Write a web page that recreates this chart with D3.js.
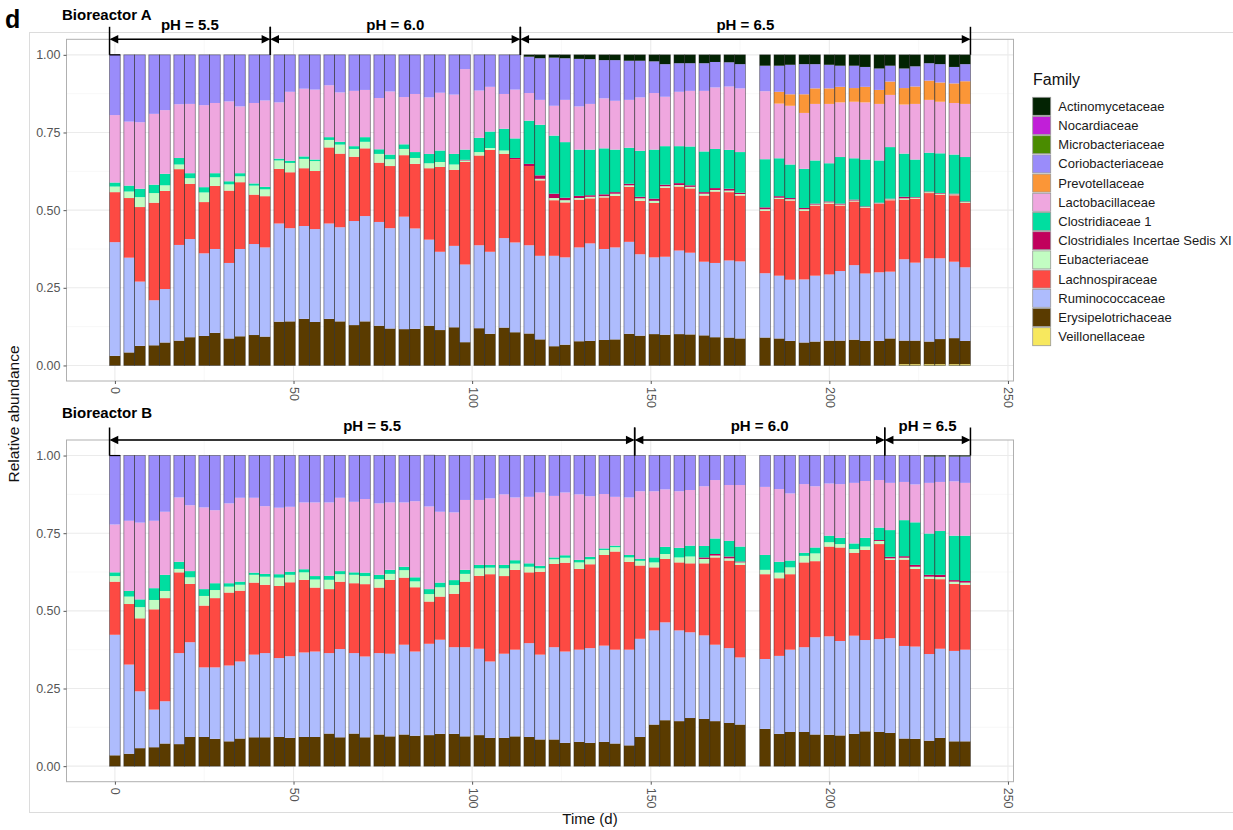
<!DOCTYPE html>
<html>
<head>
<meta charset="utf-8">
<script src="https://cdn.jsdelivr.net/npm/d3@7"></script>
<style>
  body { margin: 0; background: #fff; }
  svg { display: block; font-family: "Liberation Sans", Arial, Helvetica, sans-serif; }
</style>
</head>
<body>
<svg id="chart" width="1233" height="830"></svg>
<script>
// Families, listed top of stack first (legend order)
const families = [
  "Actinomycetaceae", "Nocardiaceae", "Microbacteriaceae", "Coriobacteriaceae",
  "Prevotellaceae", "Lactobacillaceae", "Clostridiaceae 1",
  "Clostridiales Incertae Sedis XI", "Eubacteriaceae", "Lachnospiraceae",
  "Ruminococcaceae", "Erysipelotrichaceae", "Veillonellaceae"
];
const familyColors = [
  "#032303", "#c11fd8", "#4a8c00", "#9a8cfa",
  "#fb9637", "#efa7df", "#00dea0",
  "#c1005c", "#c2fcc2", "#fd4a43",
  "#aebcfd", "#5a3b00", "#f7e85e"
];

// Sampling days (d)
const days = [
  0, 4, 7, 11, 14, 18, 21, 25, 28, 32,
  35, 39, 42, 46, 49, 53, 56, 60, 63, 67,
  70, 74, 77, 81, 84, 88, 91, 95, 98, 102,
  105, 109, 112, 116, 119, 123, 126, 130, 133, 137,
  140, 144, 147, 151, 154, 158, 161, 165, 168, 172,
  175, 182, 186, 189, 193, 196, 200, 203, 207, 210,
  214, 217, 221, 224, 228, 231, 235, 238
];

// ---- Bioreactor A relative abundances ----
const aActinomycetaceae = [
  0,0,0,0,0,0,0,0,0,0, 0,0,0,0,0,0,0,0,0,0, 0,0,0,0,0,0,0,0,0,0,
  0,0,0,.006,.011,.009,.011,.013,.014,.017,
  .017,.019,.019,.021,.030,.027,.027,.027,.023,.024,
  .030,.035,.035,.032,.030,.030,.032,.035,.035,.039,
  .044,.035,.044,.037,.027,.030,.039,.030
];
const aNocardiaceae = [
  0,0,0,0,0,0,0,0,0,0, 0,0,0,0,0,0,0,0,0,0, 0,0,0,0,0,0,0,0,0,0,
  0,0,0,0,0,0,0,0,0,0, 0,0,0,0,0,0,0,0,0,0, 0,0,0,0,0,0,0,0,0,0,
  0,0,0,0,0,0,0,0
];
const aMicrobacteriaceae = [
  0,0,0,0,0,0,0,0,0,0, 0,0,0,0,0,0,0,0,0,0, 0,0,0,0,0,0,0,0,0,0,
  0,0,0,0,0,0,0,0,0,0, 0,0,0,0,0,0,0,0,0,0, 0,0,0,0,0,0,0,0,0,0,
  0,0,0,0,0,0,0,0
];
const aCoriobacteriaceae = [
  .194,.215,.217,.190,.178,.159,.158,.162,.155,.150,
  .166,.155,.147,.153,.119,.109,.112,.098,.121,.116,
  .113,.139,.118,.136,.126,.137,.122,.128,.046,.115,
  .103,.126,.112,.117,.134,.155,.134,.153,.144,.123,
  .131,.126,.118,.102,.105,.092,.089,.089,.082,.078,
  .078,.082,.084,.095,.097,.078,.076,.068,.072,.064,
  .069,.051,.063,.065,.056,.059,.053,.055
];
const aPrevotellaceae = [
  0,0,0,0,0,0,0,0,0,0, 0,0,0,0,0,0,0,0,0,0, 0,0,0,0,0,0,0,0,0,0,
  0,0,0,0,0,0,0,0,0,0, 0,0,0,0,0,0,0,0,0,0,
  0,0,.038,.037,.060,.050,.050,.050,.044,.050,
  .045,.043,.053,.056,.062,.062,.063,.073
];
const aLactobacillaceae = [
  .217,.206,.214,.228,.205,.173,.223,.264,.226,.257,
  .215,.259,.278,.181,.222,.218,.225,.167,.159,.178,
  .152,.165,.203,.152,.187,.182,.186,.191,.259,.152,
  .144,.112,.157,.089,.080,.096,.136,.139,.147,.161,
  .157,.154,.172,.182,.159,.175,.179,.195,.198,.204,
  .205,.219,.176,.189,.180,.182,.191,.176,.182,.184,
  .182,.168,.158,.179,.170,.166,.166,.171
];
const aClostridiaceae1 = [
  .013,.019,.027,.027,.037,.021,.016,.017,.013,.010,
  .010,.007,.008,.006,.007,.008,.005,.009,.009,.009,
  .015,.015,.015,.015,.019,.030,.037,.034,.033,.046,
  .053,.070,.063,.139,.163,.187,.179,.149,.147,.148,
  .137,.116,.148,.158,.124,.119,.125,.131,.126,.125,
  .131,.155,.122,.108,.126,.139,.123,.150,.133,.151,
  .136,.166,.139,.121,.125,.128,.126,.143
];
const aClostridialesXI = [
  0,0,0,0,0,0,0,0,0,0, 0,0,0,0,0,0,0,0,0,0,
  0,0,0,0,0,0,0,0,.002,0,
  0,0,.004,.007,.011,.014,.008,.007,.005,.006,
  .005,.005,.005,.007,.005,.006,.005,.005,.006,.006,
  .004,.006,.005,.004,.004,.003,.003,.003,.003,.002,
  .002,.002,.005,.002,.002,.002,.002,.002
];
const aEubacteriaceae = [
  .018,.021,.032,.031,.018,.015,.018,.031,.028,.020,
  .019,.029,.022,.027,.030,.030,.032,.024,.029,.025,
  .021,.028,.022,.020,.019,.016,.016,.017,.005,.011,
  .006,.011,0,0,.005,.007,.007,.005,.005,.004,
  .007,.005,.008,.007,.005,.005,.005,.006,.005,.005,
  .005,.005,.004,.004,.005,.003,.004,.003,.003,.002,
  .002,.003,.004,.003,.003,.003,.003,.003
];
const aLachnospiraceae = [
  .161,.192,.240,.314,.316,.244,.178,.165,.203,.233,
  .215,.159,.165,.176,.180,.186,.187,.245,.237,.207,
  .218,.191,.200,.198,.208,.230,.273,.245,.330,.289,
  .328,.271,.268,.255,.243,.179,.177,.154,.145,.166,
  .166,.177,.172,.175,.222,.206,.207,.213,.230,.220,
  .212,.201,.247,.255,.221,.226,.228,.211,.205,.212,
  .220,.230,.192,.206,.210,.205,.214,.207
];
const aRuminococcaceae = [
  .366,.305,.207,.145,.172,.308,.316,.266,.270,.243,
  .281,.293,.287,.316,.300,.299,.299,.307,.303,.335,
  .339,.334,.323,.362,.323,.277,.252,.262,.250,.267,
  .264,.288,.289,.284,.269,.291,.281,.302,.314,.293,
  .296,.296,.262,.247,.251,.269,.263,.237,.239,.248,
  .248,.207,.202,.197,.203,.212,.213,.224,.240,.217,
  .221,.215,.262,.251,.268,.260,.246,.237
];
const aErysipelotrichaceae = [
  .031,.042,.063,.065,.074,.080,.091,.095,.105,.087,
  .094,.098,.093,.141,.142,.150,.140,.150,.142,.130,
  .142,.128,.119,.117,.118,.128,.114,.123,.075,.120,
  .102,.122,.107,.103,.084,.062,.067,.078,.079,.082,
  .084,.102,.096,.101,.099,.101,.100,.097,.091,.090,
  .087,.090,.087,.079,.074,.077,.080,.080,.083,.079,
  .079,.087,.076,.076,.073,.081,.084,.075
];
const aVeillonellaceae = [
  0,0,0,0,0,0,0,0,0,0, 0,0,0,0,0,0,0,0,0,0, 0,0,0,0,0,0,0,0,0,0,
  0,0,0,0,0,0,0,0,0,0, 0,0,0,0,0,0,0,0,0,0, 0,0,0,0,0,0,0,0,0,0,
  0,0,.004,.004,.004,.004,.004,.004
];

// ---- Bioreactor B relative abundances ----
const bActinomycetaceae = [
  0,0,0,0,0,0,0,0,0,0, 0,0,0,0,0,0,0,0,0,0, 0,0,0,0,0,0,0,0,0,0,
  0,0,0,0,0,0,0,0,0,0, 0,0,0,0,0,0,0,0,0,0, 0,0,0,0,0,0,0,0,0,0,
  0,0,0,0,.003,.003,.003,.003
];
const bNocardiaceae = [
  0,0,0,0,0,0,0,0,0,0, 0,0,0,0,0,0,0,0,0,0, 0,0,0,0,0,0,0,0,0,0,
  0,0,0,0,0,0,0,0,0,0, 0,0,0,0,0,0,0,0,0,0, 0,0,0,0,0,0,0,0,0,0,
  0,0,0,0,0,0,0,0
];
const bMicrobacteriaceae = [
  0,0,0,0,0,0,0,0,0,0, 0,0,0,0,0,0,0,0,0,0, 0,0,0,0,0,0,0,0,0,0,
  0,0,0,0,0,0,0,0,0,0, 0,0,0,0,0,0,0,0,0,0, 0,0,0,0,0,0,0,0,0,0,
  0,0,0,0,0,0,0,0
];
const bCoriobacteriaceae = [
  .222,.210,.216,.210,.181,.135,.160,.167,.176,.154,
  .136,.136,.163,.168,.165,.151,.151,.151,.136,.149,
  .140,.154,.151,.151,.147,.165,.181,.183,.143,.143,
  .138,.125,.135,.133,.119,.130,.119,.125,.131,.124,
  .133,.135,.115,.115,.109,.115,.111,.099,.079,.095,
  .095,.101,.108,.122,.092,.099,.090,.092,.088,.082,
  .079,.088,.085,.093,.085,.082,.080,.085
];
const bPrevotellaceae = [
  0,0,0,0,0,0,0,0,0,0, 0,0,0,0,0,0,0,0,0,0, 0,0,0,0,0,0,0,0,0,0,
  0,0,0,0,0,0,0,0,0,0, 0,0,0,0,0,0,0,0,0,0, 0,0,0,0,0,0,0,0,0,0,
  0,0,0,0,0,0,0,0
];
const bLactobacillaceae = [
  .154,.226,.247,.217,.203,.207,.212,.263,.235,.257,
  .270,.241,.218,.214,.209,.215,.237,.236,.236,.227,
  .237,.230,.217,.207,.245,.266,.228,.218,.225,.209,
  .214,.227,.202,.214,.236,.198,.202,.211,.195,.175,
  .157,.185,.218,.213,.185,.182,.179,.192,.188,.180,
  .198,.219,.234,.216,.221,.197,.168,.173,.195,.183,
  .153,.152,.123,.122,.163,.158,.175,.170
];
const bClostridiaceae1 = [
  .012,.018,.025,.038,.052,.023,.020,.022,.022,.011,
  .010,.007,.009,.011,.010,.010,.011,.013,.010,.008,
  .011,.014,.013,.011,.013,.016,.015,.016,.013,.011,
  .009,.011,.011,.011,.008,.006,.008,.008,.008,.005,
  .005,.008,.006,.016,.023,.031,.035,.037,.050,.050,
  .048,.048,.035,.022,.010,.019,.021,.020,.018,.028,
  .040,.086,.116,.137,.133,.141,.143,.146
];
const bClostridialesXI = [
  0,0,0,0,0,0,0,0,0,0, 0,0,0,0,0,0,0,0,0,0, 0,0,0,0,0,0,0,0,0,0,
  0,0,0,0,0,0,0,0,0,0,
  0,0,0,0,0,0,0,.005,.005,.006,
  .003,0,0,0,0,0,0,0,0,0,
  .003,.005,.005,.006,.006,.007,.005,.005
];
const bEubacteriaceae = [
  .018,.024,.036,.030,.023,.011,.021,.031,.026,.019,
  .019,.025,.026,.027,.024,.024,.026,.030,.024,.027,
  .026,.027,.019,.024,.019,.024,.030,.028,.025,.024,
  .021,.025,.020,.018,.011,.015,.016,.021,.016,.016,
  .014,.014,.015,.016,.016,.016,.022,.014,.006,.007,
  .008,.014,.018,.022,.021,.025,.014,.011,.012,.011,
  .010,.005,.006,.007,.007,.007,.007,.007
];
const bLachnospiraceae = [
  .171,.195,.235,.323,.332,.260,.188,.199,.223,.235,
  .228,.232,.220,.232,.238,.234,.206,.206,.217,.225,
  .233,.211,.238,.216,.207,.136,.139,.172,.211,.235,
  .281,.250,.257,.228,.267,.268,.286,.260,.270,.292,
  .316,.283,.236,.203,.204,.219,.222,.232,.281,.282,
  .298,.273,.250,.243,.273,.245,.289,.301,.267,.290,
  .306,.252,.278,.250,.242,.224,.216,.209
];
const bRuminococcaceae = [
  .388,.287,.183,.121,.136,.293,.305,.224,.230,.244,
  .248,.266,.271,.254,.263,.272,.275,.259,.284,.259,
  .260,.262,.266,.289,.271,.294,.303,.279,.287,.278,
  .246,.271,.279,.302,.273,.297,.294,.297,.305,.310,
  .302,.308,.316,.303,.315,.292,.276,.269,.246,.241,
  .216,.225,.251,.265,.273,.313,.317,.304,.316,.294,
  .299,.305,.298,.297,.279,.287,.291,.295
];
const bErysipelotrichaceae = [
  .035,.040,.058,.061,.073,.071,.094,.094,.088,.080,
  .089,.093,.093,.094,.091,.094,.094,.105,.093,.105,
  .093,.102,.096,.102,.098,.100,.104,.104,.096,.100,
  .091,.091,.096,.094,.086,.086,.075,.078,.075,.078,
  .073,.067,.094,.134,.148,.145,.155,.152,.145,.139,
  .134,.120,.104,.110,.110,.102,.101,.099,.104,.112,
  .110,.107,.089,.088,.082,.091,.080,.080
];
const bVeillonellaceae = [
  0,0,0,0,0,0,0,0,0,0, 0,0,0,0,0,0,0,0,0,0, 0,0,0,0,0,0,0,0,0,0,
  0,0,0,0,0,0,0,0,0,0, 0,0,0,0,0,0,0,0,0,0, 0,0,0,0,0,0,0,0,0,0,
  0,0,0,0,0,0,0,0
];

// pH phases (start/end in days, at bar edges)
const phasesA = [
  { start: -1.5, end: 43.5, label: "pH = 5.5" },
  { start: 43.5, end: 113.5, label: "pH = 6.0" },
  { start: 113.5, end: 239.5, label: "pH = 6.5" }
];
const phasesB = [
  { start: -1.5, end: 145.5, label: "pH = 5.5" },
  { start: 145.5, end: 215.5, label: "pH = 6.0" },
  { start: 215.5, end: 239.5, label: "pH = 6.5" }
];

const xTicks = [0, 50, 100, 150, 200, 250];
const yTicks = [0, 0.25, 0.5, 0.75, 1];

// ---------------------------------------------------------------
const seriesA = [aActinomycetaceae, aNocardiaceae, aMicrobacteriaceae, aCoriobacteriaceae,
  aPrevotellaceae, aLactobacillaceae, aClostridiaceae1, aClostridialesXI, aEubacteriaceae,
  aLachnospiraceae, aRuminococcaceae, aErysipelotrichaceae, aVeillonellaceae];
const seriesB = [bActinomycetaceae, bNocardiaceae, bMicrobacteriaceae, bCoriobacteriaceae,
  bPrevotellaceae, bLactobacillaceae, bClostridiaceae1, bClostridialesXI, bEubacteriaceae,
  bLachnospiraceae, bRuminococcaceae, bErysipelotrichaceae, bVeillonellaceae];

function buildRows(series) {
  return days.map((d, i) => {
    const row = { day: d };
    families.forEach((f, k) => { row[f] = series[k][i]; });
    return row;
  });
}

const svg = d3.select("#chart");
const color = d3.scaleOrdinal().domain(families).range(familyColors);
const stackKeys = families.slice().reverse(); // bottom of stack first
const stack = d3.stack().keys(stackKeys);

const x = d3.scaleLinear().domain([-13.55, 251.55]).range([66.5, 1013.5]);
const halfW = 1.5; // bar half-width in days

// figure frame
svg.append("rect").attr("x", 29.5).attr("y", 32.5).attr("width", 1210).attr("height", 780)
  .attr("fill", "none").attr("stroke", "#dcdcdc").attr("stroke-width", 1);

svg.append("text").attr("x", 5).attr("y", 28).attr("font-size", 25).attr("font-weight", "bold")
  .attr("fill", "#000").text("d");

function drawPanel(cfg) {
  const y = d3.scaleLinear().domain([-0.05, 1.05]).range([cfg.bottom, cfg.top]);
  const g = svg.append("g");
  const x0 = x.range()[0], x1 = x.range()[1];

  // grid
  const minorX = [25, 75, 125, 175, 225];
  const minorY = [0.125, 0.375, 0.625, 0.875];
  g.selectAll(".gxm").data(minorX).join("line")
    .attr("x1", d => x(d)).attr("x2", d => x(d)).attr("y1", cfg.top).attr("y2", cfg.bottom)
    .attr("stroke", "#f3f3f3").attr("stroke-width", 0.6);
  g.selectAll(".gym").data(minorY).join("line")
    .attr("x1", x0).attr("x2", x1).attr("y1", d => y(d)).attr("y2", d => y(d))
    .attr("stroke", "#f3f3f3").attr("stroke-width", 0.6);
  g.selectAll(".gx").data(xTicks).join("line")
    .attr("x1", d => x(d)).attr("x2", d => x(d)).attr("y1", cfg.top).attr("y2", cfg.bottom)
    .attr("stroke", "#ebebeb").attr("stroke-width", 1.1);
  g.selectAll(".gy").data(yTicks).join("line")
    .attr("x1", x0).attr("x2", x1).attr("y1", d => y(d)).attr("y2", d => y(d))
    .attr("stroke", "#ebebeb").attr("stroke-width", 1.1);

  // stacked bars
  const rows = buildRows(cfg.series);
  const layers = stack(rows);
  g.selectAll(".layer").data(layers).join("g")
    .attr("fill", d => color(d.key))
    .selectAll("rect").data(d => d).join("rect")
    .attr("x", d => x(d.data.day - halfW))
    .attr("width", d => x(d.data.day + halfW) - x(d.data.day - halfW))
    .attr("y", d => y(d[1]))
    .attr("height", d => Math.max(0, y(d[0]) - y(d[1])));

  // bar outlines
  g.selectAll(".outline").data(rows).join("rect")
    .attr("x", d => x(d.day - halfW))
    .attr("width", d => x(d.day + halfW) - x(d.day - halfW))
    .attr("y", d => y(d3.sum(stackKeys, k => d[k])))
    .attr("height", d => y(0) - y(d3.sum(stackKeys, k => d[k])))
    .attr("fill", "none").attr("stroke", "#222").attr("stroke-opacity", 0.55).attr("stroke-width", 0.8);

  // panel border
  g.append("rect").attr("x", x0).attr("y", cfg.top).attr("width", x1 - x0)
    .attr("height", cfg.bottom - cfg.top).attr("fill", "none")
    .attr("stroke", "#b0b0b0").attr("stroke-width", 1);

  // axes
  const ya = g.append("g").attr("transform", `translate(${x0},0)`)
    .call(d3.axisLeft(y).tickValues(yTicks).tickFormat(d3.format(".2f")).tickSize(3).tickPadding(3));
  ya.select(".domain").remove();
  ya.selectAll("line").attr("stroke", "#555");
  ya.selectAll("text").attr("fill", "#555").attr("font-size", 12.5)
    .attr("font-family", "Liberation Sans, Arial, sans-serif");

  const xa = g.append("g").attr("transform", `translate(0,${cfg.bottom})`)
    .call(d3.axisBottom(x).tickValues(xTicks).tickFormat(d3.format("d")).tickSize(3));
  xa.select(".domain").remove();
  xa.selectAll("line").attr("stroke", "#555");
  xa.selectAll("text")
    .attr("fill", "#555").attr("font-size", 12.5)
    .attr("font-family", "Liberation Sans, Arial, sans-serif")
    .attr("y", 0).attr("dy", null)
    .attr("text-anchor", "start").attr("dominant-baseline", "central")
    .attr("transform", "translate(0,6) rotate(90)");

  // title
  svg.append("text").attr("x", 62).attr("y", cfg.titleY).attr("font-size", 15)
    .attr("font-weight", "bold").attr("fill", "#000").text(cfg.title);

  // pH phase brackets
  const ay = cfg.arrowY, vTop = cfg.arrowY - 12.5, vBot = y(1);
  const ah = 8.7, aw = 4.2;
  const bg = svg.append("g");
  cfg.phases.forEach(p => {
    const xs = x(p.start), xe = x(p.end);
    bg.append("line").attr("x1", xs + 2).attr("x2", xe - 2).attr("y1", ay).attr("y2", ay)
      .attr("stroke", "#000").attr("stroke-width", 1.5);
    [xs, xe].forEach(xx => bg.append("line").attr("x1", xx).attr("x2", xx)
      .attr("y1", vTop).attr("y2", vBot).attr("stroke", "#000").attr("stroke-width", 1.5));
    bg.append("path").attr("d", `M${xs},${ay}L${xs + ah},${ay - aw}L${xs + ah},${ay + aw}Z`).attr("fill", "#000");
    bg.append("path").attr("d", `M${xe},${ay}L${xe - ah},${ay - aw}L${xe - ah},${ay + aw}Z`).attr("fill", "#000");
    bg.append("text").attr("x", (xs + xe) / 2).attr("y", ay - 9).attr("text-anchor", "middle")
      .attr("font-size", 15).attr("font-weight", "bold").attr("fill", "#000").text(p.label);
  });
  // short cap on the first bar
  bg.append("line").attr("x1", x(-1.5)).attr("x2", x(1.5)).attr("y1", vBot).attr("y2", vBot)
    .attr("stroke", "#000").attr("stroke-width", 1.2);
}

drawPanel({ series: seriesA, top: 39.3, bottom: 381, title: "Bioreactor A", titleY: 20,
  arrowY: 39.3, phases: phasesA });
drawPanel({ series: seriesB, top: 440, bottom: 781.7, title: "Bioreactor B", titleY: 418,
  arrowY: 440, phases: phasesB });

// axis titles
svg.append("text").attr("transform", "translate(19,414) rotate(-90)").attr("text-anchor", "middle")
  .attr("font-size", 15.5).attr("fill", "#111").text("Relative abundance");
svg.append("text").attr("x", 590).attr("y", 824).attr("text-anchor", "middle")
  .attr("font-size", 15).attr("fill", "#111").text("Time (d)");

// legend
const lg = svg.append("g");
lg.append("text").attr("x", 1033).attr("y", 85).attr("font-size", 16).attr("fill", "#111").text("Family");
families.forEach((f, i) => {
  const yy = 97.3 + i * 19.2;
  lg.append("rect").attr("x", 1032.7).attr("y", yy).attr("width", 18).attr("height", 18)
    .attr("fill", color(f)).attr("stroke", "#999").attr("stroke-width", 0.8);
  lg.append("text").attr("x", 1058.3).attr("y", yy + 9).attr("dominant-baseline", "central")
    .attr("font-size", 13).attr("fill", "#1a1a1a").text(f);
});
</script>
</body>
</html>
